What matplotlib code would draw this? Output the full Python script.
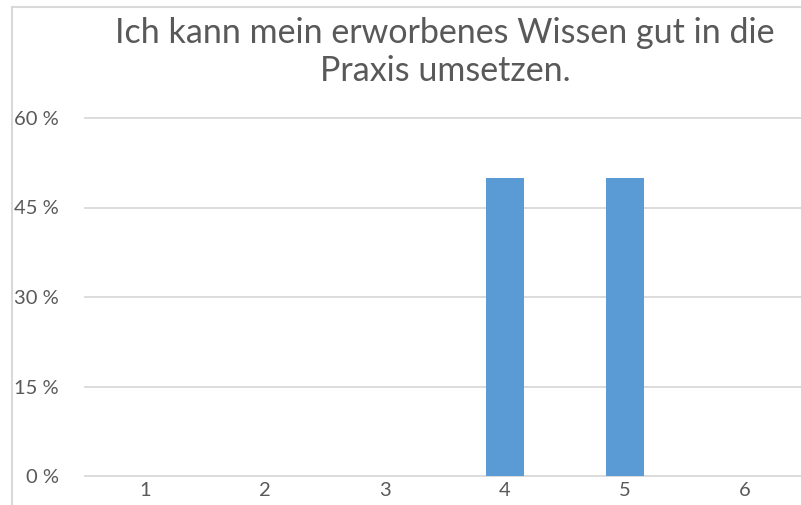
import matplotlib.pyplot as plt
from matplotlib.lines import Line2D

# data
categories = ['1', '2', '3', '4', '5', '6']
shares = [0, 0, 0, 50, 50, 0]
y_ticks = [0, 15, 30, 45, 60]
title = "Ich kann mein erworbenes Wissen gut in die\nPraxis umsetzen."

W, H = 801, 505
fig = plt.figure(figsize=(W / 100, H / 100), dpi=100)
plt.rcParams['font.family'] = ['Lato', 'DejaVu Sans']

# plot area in pixel coords
left, right, top, bottom = 85, 805, 118, 476
ax = fig.add_axes([left / W, (H - bottom) / H, (right - left) / W, (bottom - top) / H])

x = range(len(categories))
ax.bar(x, shares, width=0.32, color='#5b9bd5', zorder=3)

ax.set_xlim(-0.5, len(categories) - 0.5)
ax.set_ylim(0, 60)
ax.set_yticks(y_ticks)
ax.set_yticklabels([f"{v} %" for v in y_ticks])
ax.set_xticks(list(x))
ax.set_xticklabels(categories)

for v in y_ticks:
    ax.axhline(v, color='#d9d9d9', linewidth=1.3, zorder=1, clip_on=False)

for s in ax.spines.values():
    s.set_visible(False)
ax.tick_params(axis='both', length=0, labelsize=14.5, colors='#595959')
ax.tick_params(axis='y', pad=19)
ax.tick_params(axis='x', pad=4)

fig.text(445 / W, 1 - 52 / H, title, ha='center', va='center',
         fontsize=24.5, color='#595959', linespacing=1.25)

# chart border (cropped at right and bottom)
fig.add_artist(Line2D([12 / W, 12 / W], [0, 1 - 7 / H], transform=fig.transFigure,
                      color='#d9d9d9', linewidth=1.5))
fig.add_artist(Line2D([12 / W, 1], [1 - 7 / H, 1 - 7 / H], transform=fig.transFigure,
                      color='#d9d9d9', linewidth=1.5))

fig.savefig('out.png', dpi=100)
